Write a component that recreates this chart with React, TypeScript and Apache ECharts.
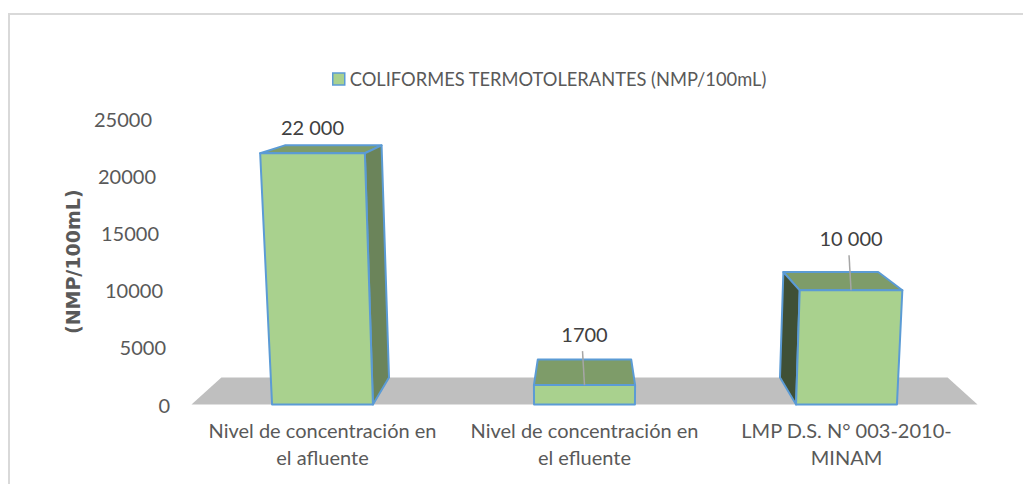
import React, { useEffect, useRef } from 'react';
import * as echarts from 'echarts';

// ---------- data ----------
const categories = [
  'Nivel de concentración en\nel afluente',
  'Nivel de concentración en\nel efluente',
  'LMP D.S. N° 003-2010-\nMINAM',
];
const values = [22000, 1700, 10000];
const valueLabels = ['22 000', '1700', '10 000'];
const yTicks = [0, 5000, 10000, 15000, 20000, 25000];
const seriesName = 'COLIFORMES TERMOTOLERANTES (NMP/100mL)';
const axisTitle = '(NMP/100mL)';

// ---------- style ----------
const FONT = 'Lato, "Noto Sans", sans-serif';
const TEXT_GREY = '#595959';
const LABEL_GREY = '#404040';
const FRONT = '#a9d18e';
const TOP = '#7e9c69';
const SIDE_RIGHT = '#6b845a';
const SIDE_LEFT = '#3f5036';
const EDGE = '#5b9bd5';
const FLOOR = '#bfbfbf';
const labelLift = [26, 51, 52];
const DEPTH = 0.076; // fraction toward the depth vanishing point
const VP_Y = 49; // depth vanishing point (y)
const VERT_VP_Y = 7000; // vertical vanishing point (3-point perspective lean)
const BAR_RATIO = 0.385;

function makeBack(vx: number) {
  return (p: number[]) => [p[0] + DEPTH * (vx - p[0]), p[1] + DEPTH * (VP_Y - p[1])];
}

export default function App() {
  const ref = useRef<HTMLDivElement>(null);
  useEffect(() => {
    if (!ref.current) return;
    const chart = echarts.init(ref.current, undefined, { renderer: 'svg' });
    const maxTick = yTicks[yTicks.length - 1];
    const rich: Record<string, any> = {};
    yTicks.forEach((t, k) => {
      rich['t' + k] = {
        fontFamily: FONT,
        fontSize: 20,
        color: TEXT_GREY,
        padding: [0, Math.round((18 * t) / maxTick), 0, 0],
      };
    });

    const option: any = {
      animation: false,
      backgroundColor: '#ffffff',
      graphic: [
        {
          type: 'rect',
          shape: { x: 9, y: 14, width: 1200, height: 700 },
          style: { fill: 'none', stroke: '#d9d9d9', lineWidth: 2 },
          silent: true,
          z: -10,
        },
      ],
      legend: {
        left: 332,
        top: 69,
        padding: 0,
        icon: 'rect',
        itemWidth: 12,
        itemHeight: 12,
        textStyle: { fontFamily: FONT, fontSize: 18.3, color: TEXT_GREY, lineHeight: 20 },
        data: [
          {
            name: seriesName,
            itemStyle: { color: FRONT, borderColor: EDGE, borderWidth: 1.5 },
          },
        ],
      },
      grid: { left: 191.5, right: 45.5, top: 119, bottom: 79.5, containLabel: false },
      xAxis: {
        type: 'category',
        data: categories,
        axisLine: { show: false },
        axisTick: { show: false },
        axisLabel: {
          fontFamily: FONT,
          fontSize: 20,
          color: TEXT_GREY,
          lineHeight: 27,
          margin: 12,
          interval: 0,
        },
      },
      yAxis: {
        type: 'value',
        min: 0,
        max: maxTick,
        interval: 5000,
        splitLine: { show: false },
        axisLine: { show: false },
        axisTick: { show: false },
        axisLabel: {
          margin: 21.5,
          formatter: (v: number) => `{t${yTicks.indexOf(v)}|${v}}`,
          rich,
        },
        name: axisTitle,
        nameLocation: 'middle',
        nameRotate: 90,
        nameGap: 109,
        nameTextStyle: {
          fontFamily: '"DejaVu Sans", sans-serif',
          fontWeight: 'bold',
          fontSize: 19,
          color: TEXT_GREY,
        },
      },
      series: [
        {
          type: 'custom',
          name: 'floor',
          silent: true,
          clip: false,
          z: 1,
          data: [[0, 0]],
          encode: { x: 0, y: 1 },
          renderItem: (params: any, api: any) => {
            const cs = params.coordSys;
            const back = makeBack(cs.x + cs.width / 2);
            const yb = api.coord([0, 0])[1];
            const p0 = [cs.x, yb];
            const p1 = [cs.x + cs.width, yb];
            return {
              type: 'polygon',
              shape: { points: [p0, p1, back(p1), back(p0)] },
              style: { fill: FLOOR, stroke: 'none' },
            };
          },
        },
        {
          type: 'custom',
          name: seriesName,
          clip: false,
          z: 2,
          itemStyle: { color: FRONT, borderColor: EDGE, borderWidth: 1.5 },
          data: values.map((v, i) => [i, v]),
          encode: { x: 0, y: 1 },
          renderItem: (params: any, api: any) => {
            const cs = params.coordSys;
            const cx = cs.x + cs.width / 2;
            const back = makeBack(cx);
            const i = api.value(0);
            const v = api.value(1);
            const base = api.coord([i, 0]);
            const top = api.coord([i, v]);
            const w = api.size([1, 0])[0] * BAR_RATIO;
            const y0 = base[1];
            const lean = (x: number, y: number) => [
              cx + ((x - cx) * (VERT_VP_Y - y)) / (VERT_VP_Y - y0),
              y,
            ];
            const fbl = lean(base[0] - w / 2, y0);
            const fbr = lean(base[0] + w / 2, y0);
            const ftl = lean(top[0] - w / 2, top[1]);
            const ftr = lean(top[0] + w / 2, top[1]);
            const edge = { stroke: EDGE, lineWidth: 2, lineJoin: 'round' };
            const children: any[] = [];
            // top face
            children.push({
              type: 'polygon',
              shape: { points: [ftl, ftr, back(ftr), back(ftl)] },
              style: { fill: TOP, ...edge },
            });
            if (ftr[0] < cx) {
              children.push({
                type: 'polygon',
                shape: { points: [fbr, ftr, back(ftr), back(fbr)] },
                style: { fill: SIDE_RIGHT, ...edge },
              });
            }
            if (ftl[0] > cx) {
              children.push({
                type: 'polygon',
                shape: { points: [fbl, ftl, back(ftl), back(fbl)] },
                style: { fill: SIDE_LEFT, ...edge },
              });
            }
            children.push({
              type: 'polygon',
              shape: { points: [ftl, ftr, fbr, fbl] },
              style: { fill: FRONT, ...edge },
            });
            const lx = (ftl[0] + ftr[0]) / 2;
            const ly = top[1] - labelLift[i];
            if (labelLift[i] > 40) {
              children.push({
                type: 'line',
                shape: { x1: lx - 2, y1: ly + 17, x2: lx, y2: top[1] },
                style: { stroke: '#a6a6a6', lineWidth: 1.5 },
              });
            }
            children.push({
              type: 'text',
              style: {
                text: valueLabels[i],
                x: lx,
                y: ly,
                align: 'center',
                verticalAlign: 'middle',
                fontFamily: FONT,
                fontSize: 20,
                fill: LABEL_GREY,
              },
            });
            return { type: 'group', children };
          },
        },
      ],
    };
    chart.setOption(option);
    return () => chart.dispose();
  }, []);
  return (
    <div
      ref={ref}
      style={{ position: 'absolute', left: 0, top: 0, width: 1023, height: 484 }}
    />
  );
}
